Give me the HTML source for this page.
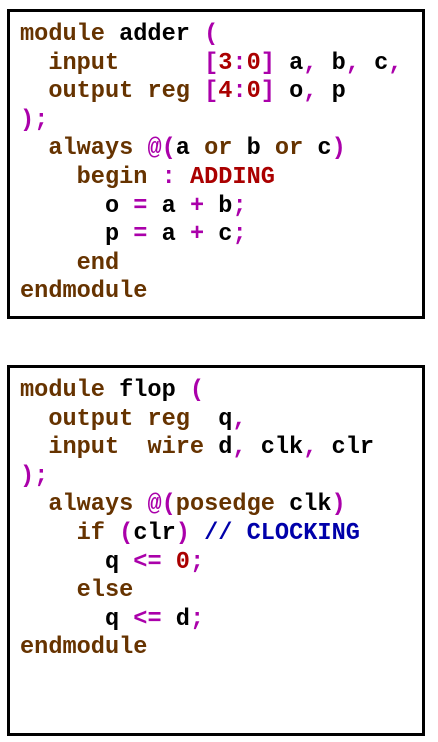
<!DOCTYPE html>
<html><head><style>
body{margin:0;width:438px;height:742px;background:#fff;position:relative;overflow:hidden}
.box{position:absolute;left:7px;width:412px;border:3px solid #000;background:#fff}
pre{position:absolute;left:10px;margin:0;font-family:"Liberation Mono",monospace;font-weight:bold;font-size:23.6px;line-height:28.6px;color:#000}
.k{color:#663300}.p{color:#aa00aa}.r{color:#aa0000}.b{color:#0000aa}
</style></head><body>
<div class="box" style="top:9px;height:304px"><pre style="top:9px"><span class="k">module</span> adder <span class="p">(</span>
  <span class="k">input</span>      <span class="p">[</span><span class="r">3</span><span class="p">:</span><span class="r">0</span><span class="p">]</span> a<span class="p">,</span> b<span class="p">,</span> c<span class="p">,</span>
  <span class="k">output reg</span> <span class="p">[</span><span class="r">4</span><span class="p">:</span><span class="r">0</span><span class="p">]</span> o<span class="p">,</span> p
<span class="p">);</span>
  <span class="k">always</span> <span class="p">@(</span>a <span class="k">or</span> b <span class="k">or</span> c<span class="p">)</span>
    <span class="k">begin</span> <span class="p">:</span> <span class="r">ADDING</span>
      o <span class="p">=</span> a <span class="p">+</span> b<span class="p">;</span>
      p <span class="p">=</span> a <span class="p">+</span> c<span class="p">;</span>
    <span class="k">end</span>
<span class="k">endmodule</span></pre></div>
<div class="box" style="top:365px;height:365px"><pre style="top:9px"><span class="k">module</span> flop <span class="p">(</span>
  <span class="k">output reg</span>  q<span class="p">,</span>
  <span class="k">input  wire</span> d<span class="p">,</span> clk<span class="p">,</span> clr
<span class="p">);</span>
  <span class="k">always</span> <span class="p">@(</span><span class="k">posedge</span> clk<span class="p">)</span>
    <span class="k">if</span> <span class="p">(</span>clr<span class="p">)</span> <span class="b">// CLOCKING</span>
      q <span class="p">&lt;=</span> <span class="r">0</span><span class="p">;</span>
    <span class="k">else</span>
      q <span class="p">&lt;=</span> d<span class="p">;</span>
<span class="k">endmodule</span></pre></div>
</body></html>
